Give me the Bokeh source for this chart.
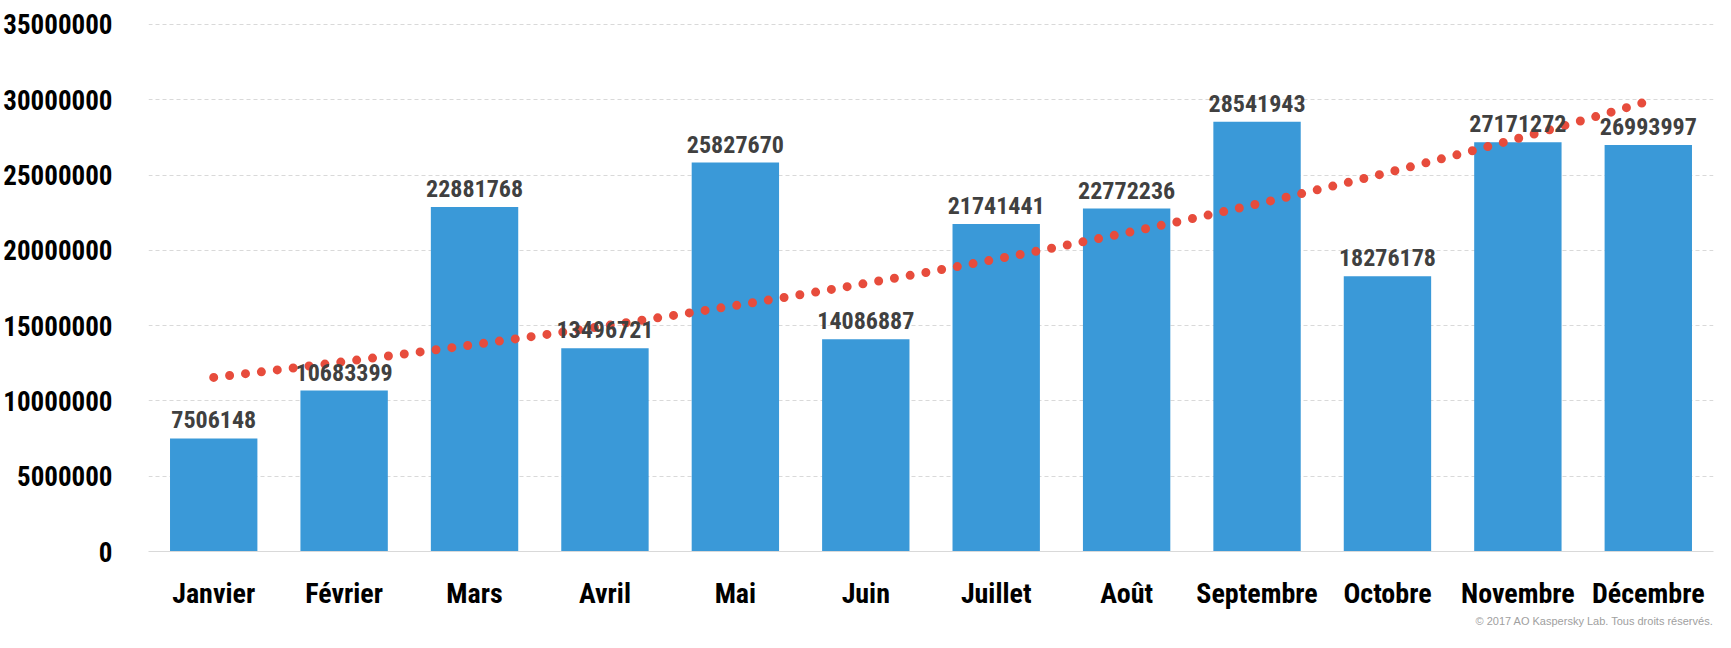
import numpy as np
from bokeh.plotting import figure
from bokeh.models import Range1d, FixedTicker, Title, ColumnDataSource
from bokeh.core.properties import value
from bokeh.embed import file_html
from bokeh.resources import INLINE

months = ["Janvier", "Février", "Mars", "Avril", "Mai", "Juin", "Juillet",
          "Août", "Septembre", "Octobre", "Novembre", "Décembre"]
counts = [7506148, 10683399, 22881768, 13496721, 25827670, 14086887,
          21741441, 22772236, 28541943, 18276178, 27171272, 26993997]
y_ticks = [0, 5000000, 10000000, 15000000, 20000000, 25000000, 30000000, 35000000]
copyright_text = "© 2017 AO Kaspersky Lab. Tous droits réservés."

FONT = "'Roboto Condensed', 'DejaVu Sans Condensed', sans-serif"

xs = np.arange(1, len(months) + 1)

# exponential trend line fitted to the data
coef = np.polyfit(xs, np.log(np.array(counts, dtype=float)), 1)
tx = np.linspace(1, len(months), 400)
ty = np.exp(np.polyval(coef, tx))

p = figure(width=1723, height=642, output_backend="svg", toolbar_location=None,
           x_range=Range1d(0.5, 12.5), y_range=Range1d(0, 35260000),
           min_border_left=148, min_border_right=10, min_border_top=20,
           min_border_bottom=91)
p.outline_line_color = None
p.background_fill_color = "white"
p.border_fill_color = "white"

src = ColumnDataSource(dict(x=xs, y=counts, lab=[str(v) for v in counts]))
p.vbar(x="x", top="y", width=0.67, source=src, fill_color="#3a99d8", line_color=None)

p.line(tx, ty, line_color="#e74c3c", line_width=9, line_dash="0 16", line_cap="round")

p.text(x="x", y="y", text="lab", source=src, text_align="center", text_baseline="bottom",
       y_offset=-10, text_font=value(FONT), text_font_style="bold",
       text_font_size="24px", text_color="#404040")

p.xgrid.visible = False
p.ygrid.ticker = FixedTicker(ticks=y_ticks)
p.ygrid.grid_line_color = "#d9d9d9"
p.ygrid.grid_line_dash = "4 3"

p.xaxis.ticker = FixedTicker(ticks=list(xs))
p.xaxis.major_label_overrides = {int(i): m for i, m in zip(xs, months)}
p.xaxis.axis_line_color = "#d9d9d9"
p.xaxis.major_tick_line_color = None
p.xaxis.minor_tick_line_color = None
p.xaxis.major_label_standoff = 19
p.xaxis.major_label_text_font = FONT
p.xaxis.major_label_text_font_style = "bold"
p.xaxis.major_label_text_font_size = "28px"
p.xaxis.major_label_text_color = "black"

p.yaxis.ticker = FixedTicker(ticks=y_ticks)
p.yaxis.formatter.use_scientific = False
p.yaxis.axis_line_color = None
p.yaxis.major_tick_line_color = None
p.yaxis.minor_tick_line_color = None
p.yaxis.major_label_standoff = 30
p.yaxis.major_label_text_font = FONT
p.yaxis.major_label_text_font_style = "bold"
p.yaxis.major_label_text_font_size = "27px"
p.yaxis.major_label_text_color = "black"

p.add_layout(Title(text=copyright_text, align="right", text_font="Liberation Sans",
                   text_font_style="normal", text_font_size="11px",
                   text_color="#a0a0a0", standoff=0), "below")

open("out.html", "w").write(file_html(p, INLINE))
